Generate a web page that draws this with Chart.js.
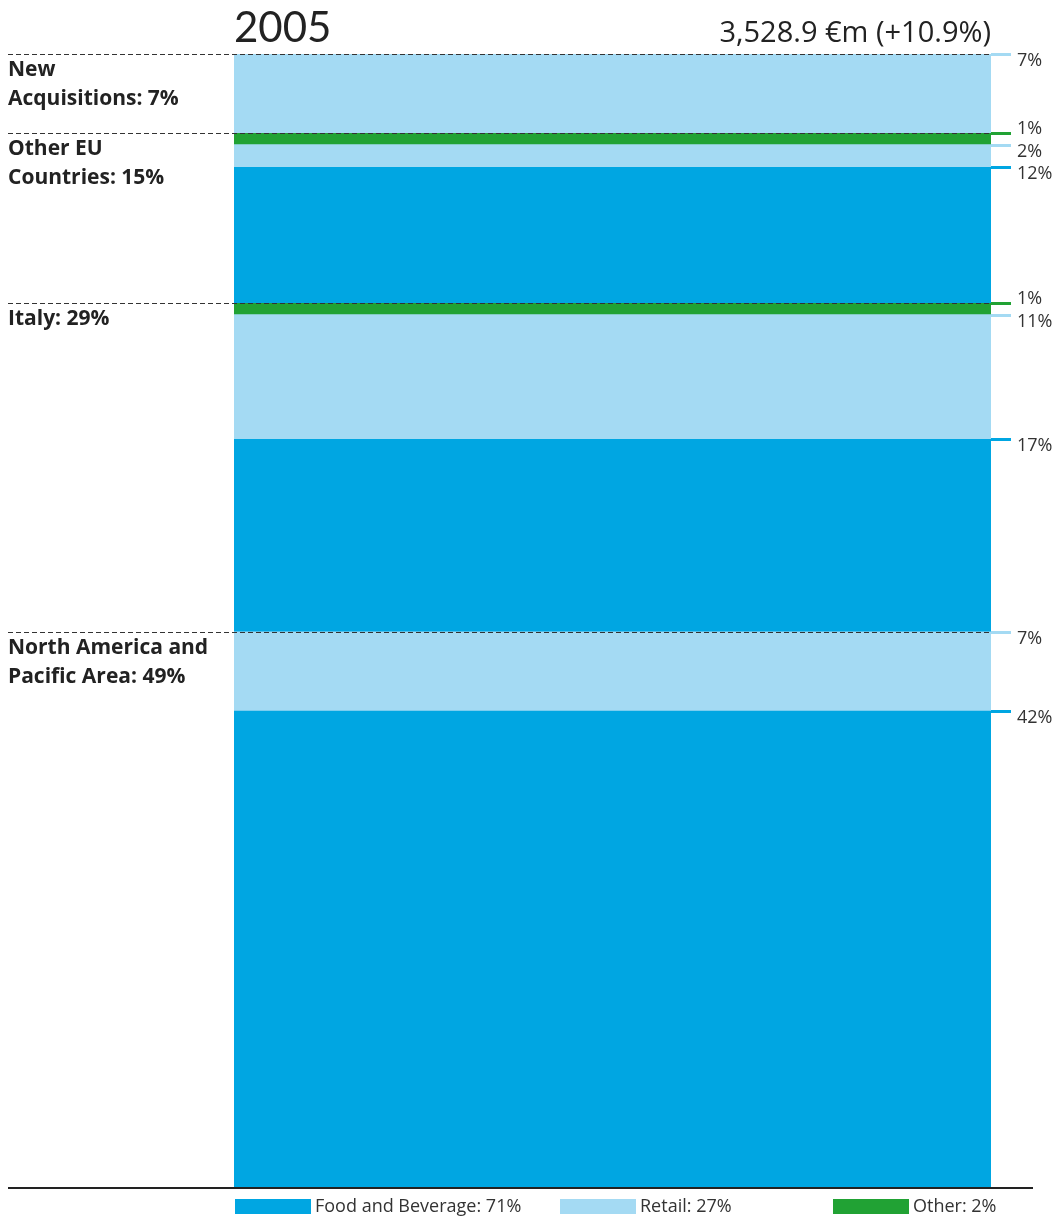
<!DOCTYPE html>
<html>
<head>
<meta charset="utf-8">
<script src="https://cdn.jsdelivr.net/npm/chart.js@4"></script>
<style>
  html, body { margin: 0; padding: 0; background: #fff; }
  #wrap { width: 1058px; height: 1220px; position: relative; }
</style>
</head>
<body>
<div id="wrap"><canvas id="chart"></canvas></div>
<script>
// data
const year = '2005';
const totalLabel = '3,528.9 €m (+10.9%)';
const regionLines = [
  ['North America and', 'Pacific Area: 49%'],
  ['Italy: 29%'],
  ['Other EU', 'Countries: 15%'],
  ['New', 'Acquisitions: 7%']
];
const segments = ['Food and Beverage', 'Retail', 'Other'];
const food = [42, 17, 12, 0];
const retail = [7, 11, 2, 7];
const other = [0, 1, 1, 0];

// look
const colors = ['#00a6e2', '#a4daf3', '#21a234'];
const titleFont = 'Lato, sans-serif';
const textFont = '"Open Sans", sans-serif';

// build stacked datasets, bottom region first, food -> retail -> other
const seriesValues = [food, retail, other];
const datasets = [];
for (let r = 0; r < regionLines.length; r++) {
  for (let s = 0; s < segments.length; s++) {
    const v = seriesValues[s][r];
    if (v > 0) {
      datasets.push({
        label: segments[s],
        data: [v],
        backgroundColor: colors[s],
        seg: s,
        region: r,
        stack: 'all'
      });
    }
  }
}

const sum = arr => arr.reduce((a, b) => a + b, 0);

const overlay = {
  id: 'overlay',
  afterDatasetsDraw(chart) {
    const ctx = chart.ctx;
    const y = chart.scales.y;
    const area = chart.chartArea;
    ctx.save();

    // tick marks and percent labels on the right
    let cum = 0;
    datasets.forEach(ds => {
      cum += ds.data[0];
      const py = Math.round(y.getPixelForValue(cum));
      ctx.fillStyle = colors[ds.seg];
      ctx.fillRect(area.right, py - 1, 20, 3);
      ctx.fillStyle = '#333';
      ctx.font = '18px ' + textFont;
      ctx.textAlign = 'left';
      ctx.textBaseline = 'middle';
      const off = ds.seg === 2 ? -4 : 7;
      ctx.fillText(ds.data[0] + '%', area.right + 26, py + off);
    });

    // dashed region separators and region labels
    let regionTop = 0;
    for (let r = 0; r < regionLines.length; r++) {
      regionTop += food[r] + retail[r] + other[r];
      const py = Math.round(y.getPixelForValue(regionTop)) + 0.5;
      ctx.strokeStyle = '#333';
      ctx.lineWidth = 1;
      ctx.setLineDash([5, 3]);
      ctx.beginPath();
      ctx.moveTo(8, py);
      ctx.lineTo(area.right, py);
      ctx.stroke();
      ctx.setLineDash([]);
      ctx.fillStyle = '#222';
      ctx.font = 'bold 21px ' + textFont;
      ctx.textAlign = 'left';
      ctx.textBaseline = 'middle';
      regionLines[r].forEach((line, i) => {
        ctx.fillText(line, 8, py + 16 + i * 29);
      });
    }

    // baseline
    ctx.fillStyle = '#222';
    ctx.fillRect(8, area.bottom, 1025, 2);

    // title and total
    ctx.fillStyle = '#222';
    ctx.textBaseline = 'alphabetic';
    ctx.textAlign = 'left';
    ctx.font = '42px ' + titleFont;
    ctx.fillText(year, area.left, 42);
    ctx.textAlign = 'right';
    ctx.font = '29px ' + textFont;
    ctx.fillText(totalLabel, area.right, 42);

    // legend
    const legendX = [235, 560, 833];
    seriesValues.forEach((vals, s) => {
      ctx.fillStyle = colors[s];
      ctx.fillRect(legendX[s], 1199, 76, 15);
      ctx.fillStyle = '#333';
      ctx.font = '18px ' + textFont;
      ctx.textAlign = 'left';
      ctx.textBaseline = 'middle';
      ctx.fillText(segments[s] + ': ' + sum(vals) + '%', legendX[s] + 80, 1207);
    });

    ctx.restore();
  }
};

new Chart(document.getElementById('chart').getContext('2d'), {
  type: 'bar',
  data: { labels: [year], datasets: datasets },
  options: {
    responsive: true,
    maintainAspectRatio: false,
    animation: false,
    layout: { padding: { left: 234, right: 67, top: 54, bottom: 33 } },
    datasets: { bar: { categoryPercentage: 1, barPercentage: 1, borderWidth: 0 } },
    scales: {
      x: { display: false, stacked: true },
      y: { display: false, stacked: true, min: 0, max: 100 }
    },
    plugins: { legend: { display: false }, tooltip: { enabled: false } }
  },
  plugins: [overlay]
});
</script>
</body>
</html>
